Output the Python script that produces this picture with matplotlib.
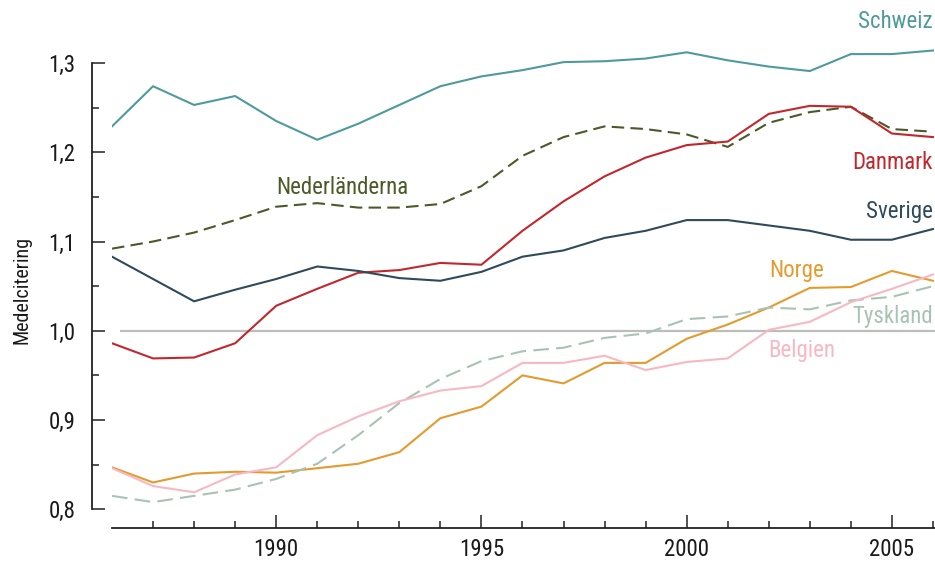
import matplotlib
matplotlib.use("Agg")
import matplotlib.pyplot as plt
from matplotlib.ticker import FixedLocator, FuncFormatter

plt.rcParams['font.family'] = ['Roboto Condensed', 'Liberation Sans Narrow', 'Liberation Sans', 'DejaVu Sans']

# Data
years = list(range(1986, 2007))

schweiz = [1.229, 1.274, 1.253, 1.263, 1.235, 1.214, 1.232, 1.253, 1.274, 1.285, 1.292,
           1.301, 1.302, 1.305, 1.312, 1.303, 1.296, 1.291, 1.310, 1.310, 1.314]
nederlanderna = [1.092, 1.100, 1.110, 1.124, 1.139, 1.143, 1.138, 1.138, 1.142, 1.162, 1.196,
                 1.217, 1.229, 1.226, 1.220, 1.206, 1.233, 1.245, 1.251, 1.226, 1.223]
danmark = [0.986, 0.969, 0.970, 0.986, 1.028, 1.047, 1.065, 1.068, 1.076, 1.074, 1.112,
           1.145, 1.173, 1.194, 1.208, 1.212, 1.243, 1.252, 1.251, 1.221, 1.217]
sverige = [1.083, 1.058, 1.033, 1.046, 1.058, 1.072, 1.067, 1.059, 1.056, 1.066, 1.083,
           1.090, 1.104, 1.112, 1.124, 1.124, 1.118, 1.112, 1.102, 1.102, 1.114]
norge = [0.847, 0.830, 0.840, 0.842, 0.841, 0.846, 0.851, 0.864, 0.902, 0.915, 0.950,
         0.941, 0.964, 0.964, 0.991, 1.007, 1.026, 1.048, 1.049, 1.067, 1.056]
tyskland = [0.815, 0.808, 0.815, 0.822, 0.834, 0.851, 0.883, 0.919, 0.946, 0.966, 0.977,
            0.981, 0.992, 0.997, 1.013, 1.016, 1.026, 1.024, 1.034, 1.038, 1.050]
belgien = [0.846, 0.826, 0.819, 0.839, 0.847, 0.883, 0.904, 0.921, 0.933, 0.938, 0.964,
           0.964, 0.972, 0.956, 0.965, 0.969, 1.001, 1.010, 1.032, 1.047, 1.063]

yticks = [0.8, 0.9, 1.0, 1.1, 1.2, 1.3]
xticks = [1990, 1995, 2000, 2005]

series = [
    # name, values, color, linestyle, label x, label y, ha
    ("Schweiz", schweiz, "#4f9a9c", "-", 2006.0, 1.346, "right"),
    ("Nederländerna", nederlanderna, "#4b5a28", (0, (6, 3)), 1991.6, 1.160, "center"),
    ("Danmark", danmark, "#c1272d", "-", 2006.0, 1.189, "right"),
    ("Sverige", sverige, "#2f4a5b", "-", 2006.0, 1.134, "right"),
    ("Norge", norge, "#e49b2e", "-", 2002.67, 1.068, "center"),
    ("Tyskland", tyskland, "#a8c3b3", (0, (7.5, 3.5)), 2006.0, 1.016, "right"),
    ("Belgien", belgien, "#f7b8c3", "-", 2002.8, 0.978, "center"),
]

fig = plt.figure(figsize=(9.35, 5.62), dpi=100)
ax = fig.add_axes([0.1198, 0.0605, 0.8802, 0.9395])

# reference line at 1.0
ax.hlines(1.0, 1986.2, 2006.1, color="#bdbdbd", lw=1.6, zorder=1)

for name, vals, col, ls, lx, ly, ha in series:
    ax.plot(years, vals, color=col, ls=ls, lw=1.5, zorder=3)
    ax.text(lx, ly, name, color=col, fontsize=16.5, ha=ha, va="center")

ax.set_xlim(1986, 2006.05)
ax.set_ylim(0.779, 1.3706)

for s in ["top", "right"]:
    ax.spines[s].set_visible(False)
ax.spines["left"].set_position(("outward", 14.4))
ax.spines["left"].set_bounds(0.8, 1.3)
ax.spines["bottom"].set_bounds(1986, 2006.05)
for s in ["left", "bottom"]:
    ax.spines[s].set_linewidth(1.3)
    ax.spines[s].set_color("#222222")

ax.yaxis.set_major_locator(FixedLocator(yticks))
ax.yaxis.set_minor_locator(FixedLocator([0.85, 0.95, 1.05, 1.15, 1.25]))
ax.xaxis.set_major_locator(FixedLocator(xticks))
ax.xaxis.set_minor_locator(FixedLocator([y for y in years[1:] if y not in xticks]))
ax.yaxis.set_major_formatter(FuncFormatter(lambda v, p: f"{v:.1f}".replace(".", ",")))

ax.tick_params(axis="both", which="major", direction="in", length=9.4, width=1.1,
               color="#222222", labelsize=16.5, labelcolor="#1a1a1a")
ax.tick_params(axis="both", which="minor", direction="in", length=4.8, width=1.1,
               color="#222222")
ax.tick_params(axis="y", which="major", pad=12)
ax.tick_params(axis="x", which="major", pad=7)

fig.text(0.0235, 0.484, "Medelcitering", rotation=90, fontsize=14.5,
         ha="center", va="center", color="#1a1a1a")

fig.savefig("out.png", dpi=100)
